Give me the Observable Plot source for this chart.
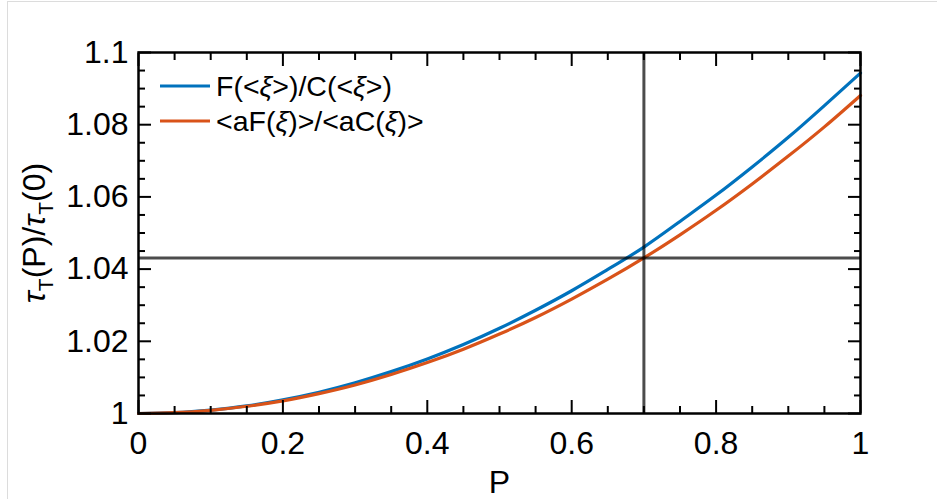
<!DOCTYPE html>
<html>
<head>
<meta charset="utf-8">
<script src="https://cdn.jsdelivr.net/npm/d3@7"></script>
<script src="https://cdn.jsdelivr.net/npm/@observablehq/plot@0.6"></script>
<style>
  html, body { margin: 0; padding: 0; background: #fff; }
  #wrap { position: relative; width: 937px; height: 499px; overflow: hidden; }
  #border { position: absolute; left: 7px; top: 1px; width: 960px; height: 560px; border: 1px solid #dcdcdc; box-sizing: border-box; }
  #chart { position: absolute; left: 0; top: 0; }
</style>
</head>
<body>
<div id="wrap"><div id="border"></div><div id="chart"></div></div>
<script>
// ---- data ----
const P = [0, 0.05, 0.1, 0.15, 0.2, 0.25, 0.3, 0.35, 0.4, 0.45, 0.5, 0.55, 0.6, 0.65, 0.7, 0.75, 0.8, 0.85, 0.9, 0.95, 1];
const ratioOfMeans = [1, 1.00024, 1.00095, 1.0021, 1.0038, 1.0059, 1.0085, 1.0116, 1.0151, 1.0191, 1.0236, 1.0286, 1.0340, 1.0399, 1.0461, 1.0532, 1.0605, 1.0683, 1.0765, 1.0853, 1.0943];
const meanOfRatios = [1, 1.00022, 1.00088, 1.0020, 1.0035, 1.0055, 1.0079, 1.0108, 1.0141, 1.0178, 1.0220, 1.0266, 1.0317, 1.0372, 1.0431, 1.0495, 1.0563, 1.0636, 1.0713, 1.0794, 1.0881];
const seriesNames = ["F(<ξ>)/C(<ξ>)", "<aF(ξ)>/<aC(ξ)>"];
const seriesColors = ["#0072BD", "#D95319"];
const crossP = [0.7];
const crossY = [1.0431];
const xMajor = [0, 0.2, 0.4, 0.6, 0.8, 1];
const xMinor = [0.05, 0.1, 0.15, 0.25, 0.3, 0.35, 0.45, 0.5, 0.55, 0.65, 0.7, 0.75, 0.85, 0.9, 0.95];
const yMajor = [1, 1.02, 1.04, 1.06, 1.08, 1.1];
const yMinor = [1.005, 1.01, 1.015, 1.025, 1.03, 1.035, 1.045, 1.05, 1.055, 1.065, 1.07, 1.075, 1.085, 1.09, 1.095];

const rows = [];
P.forEach((p, i) => {
  rows.push({P: p, v: ratioOfMeans[i], s: seriesNames[0]});
  rows.push({P: p, v: meanOfRatios[i], s: seriesNames[1]});
});

const font = "'Liberation Sans', Arial, Helvetica, sans-serif";
const fmt = d => String(+d.toFixed(2));
const tickCommon = {tickFormat: () => "", label: null, stroke: "black", strokeWidth: 2};

const svg = Plot.plot({
  width: 937, height: 499,
  marginLeft: 138, marginRight: 77, marginTop: 52, marginBottom: 86,
  style: {fontFamily: font, background: "transparent", color: "black", overflow: "visible"},
  x: {domain: [0, 1]},
  y: {domain: [1, 1.1]},
  color: {domain: seriesNames, range: seriesColors},
  marks: [
    Plot.line(rows, {x: "P", y: "v", z: "s", stroke: "s", strokeWidth: 3.2, curve: "natural"}),
    Plot.ruleX(crossP, {stroke: "black", strokeOpacity: 0.7, strokeWidth: 3}),
    Plot.ruleY(crossY, {stroke: "black", strokeOpacity: 0.7, strokeWidth: 3}),
    Plot.axisX(xMajor, {anchor: "bottom", tickSize: -13, ...tickCommon}),
    Plot.axisX(xMinor, {anchor: "bottom", tickSize: -7, ...tickCommon}),
    Plot.axisX(xMajor, {anchor: "top", tickSize: -13, ...tickCommon}),
    Plot.axisX(xMinor, {anchor: "top", tickSize: -7, ...tickCommon}),
    Plot.axisY(yMajor, {anchor: "left", tickSize: -13, ...tickCommon}),
    Plot.axisY(yMinor, {anchor: "left", tickSize: -7, ...tickCommon}),
    Plot.axisY(yMajor, {anchor: "right", tickSize: -13, ...tickCommon}),
    Plot.axisY(yMinor, {anchor: "right", tickSize: -7, ...tickCommon}),
    Plot.axisX(xMajor, {anchor: "bottom", tickSize: 0, tickPadding: 18, fontSize: 32, tickFormat: fmt, label: null}),
    Plot.axisY(yMajor, {anchor: "left", tickSize: 0, tickPadding: 10, fontSize: 32, tickFormat: fmt, label: null}),
    Plot.frame({stroke: "black", strokeWidth: 2.5}),
    Plot.text(["P"], {frameAnchor: "bottom", lineAnchor: "top", dy: 57, fontSize: 32, fill: "black"})
  ]
});

const s = d3.select(svg);
// y-axis title with subscripts
const yl = s.append("text")
  .attr("transform", "translate(45,233) rotate(-90)")
  .attr("text-anchor", "middle")
  .attr("fill", "black")
  .style("font-family", font)
  .style("font-size", "32px");
yl.append("tspan").style("font-style", "italic").text("τ");
yl.append("tspan").style("font-size", "21px").attr("dy", 8).text("T");
yl.append("tspan").attr("dy", -8).text("(P)/");
yl.append("tspan").style("font-style", "italic").text("τ");
yl.append("tspan").style("font-size", "21px").attr("dy", 8).text("T");
yl.append("tspan").attr("dy", -8).text("(0)");

// legend
const legendY = [86, 121];
const parts = [
  [["F(<", false], ["ξ", true], [">)/C(<", false], ["ξ", true], [">)", false]],
  [["<aF(", false], ["ξ", true], [")>/<aC(", false], ["ξ", true], [")>", false]]
];
seriesNames.forEach((name, i) => {
  s.append("line").attr("x1", 160).attr("x2", 210).attr("y1", legendY[i]).attr("y2", legendY[i])
    .attr("stroke", seriesColors[i]).attr("stroke-width", 3);
  const t = s.append("text").attr("x", 216).attr("y", legendY[i]).attr("dy", "0.35em")
    .attr("text-anchor", "start")
    .attr("fill", "black").style("font-family", font).style("font-size", "28.5px");
  parts[i].forEach(([txt, it]) => {
    const sp = t.append("tspan").text(txt);
    if (it) sp.style("font-style", "italic");
  });
});

document.getElementById("chart").appendChild(svg);
</script>
</body>
</html>
